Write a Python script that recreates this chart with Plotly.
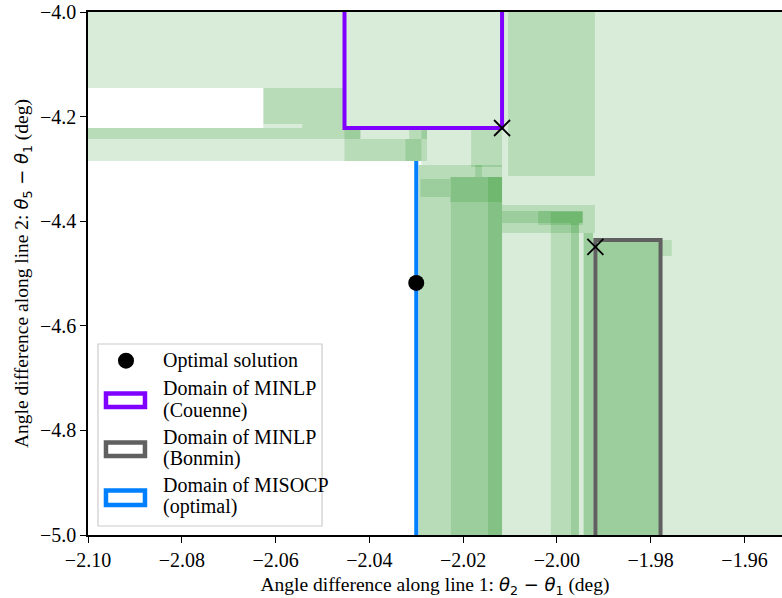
import plotly.graph_objects as go

# ---------------- data ----------------
x_ticks = [-2.10, -2.08, -2.06, -2.04, -2.02, -2.00, -1.98, -1.96]
y_ticks = [-5.0, -4.8, -4.6, -4.4, -4.2, -4.0]

# explored sub-domains (branch-and-bound boxes): x0, x1, y0, y1
box_x0 = [-2.12, -2.0117, -2.0104, -2.0453, -2.12, -2.12, -2.0626, -2.0626, -2.0543,
          -2.0453, -2.0453, -2.0323, -2.0453, -2.0453, -2.0315, -2.0289, -2.0183,
          -2.0300, -2.0294, -2.0226, -2.0147, -2.0228, -2.0291, -2.0174,
          -2.0117, -2.0117, -2.0040, -2.0013, -2.0013, -1.9970, -1.9943, -1.9943,
          -1.9919, -1.9919, -1.9779]
box_x1 = [-1.94, -1.94, -1.9919, -2.0117, -2.0453, -2.0453, -2.0453, -2.0453, -2.0453,
          -2.0277, -2.0289, -2.0289, -2.0419, -2.0419, -2.0277, -2.0117, -2.0117,
          -2.0117, -2.0117, -2.0117, -2.0117, -2.0117, -2.0228, -2.0160,
          -1.9919, -1.9945, -1.9945, -1.9945, -1.9953, -1.9953, -1.9923, -1.9923,
          -1.9779, -1.9779, -1.9755]
box_y0 = [-4.1453, -5.02, -4.3136, -4.2218, -4.2849, -4.2428, -4.2218, -4.2141, -4.2218,
          -4.2849, -4.2849, -4.2849, -4.2428, -4.2428, -4.2428, -4.2925, -4.2964,
          -5.02, -5.02, -5.02, -5.02, -4.3633, -4.3537, -4.3155,
          -4.4226, -4.4034, -4.4073, -4.4034, -5.02, -5.02, -5.02, -5.02,
          -5.02, -5.02, -4.4665]
box_y1 = [-3.98, -4.1453, -3.98, -4.1453, -4.2218, -4.2218, -4.1453, -4.1453, -4.2141,
          -4.2218, -4.2428, -4.2428, -4.2218, -4.2218, -4.2218, -4.2218, -4.2218,
          -4.2925, -4.2925, -4.3155, -4.3155, -4.3155, -4.3193, -4.2925,
          -4.3690, -4.3805, -4.3805, -4.3824, -4.4034, -4.4034, -4.4226, -4.4226,
          -4.4360, -4.4360, -4.4360]

# solver domains: x0, x1, y0, y1
couenne_box = [-2.0453, -2.0117, -4.2218, -3.90]
bonmin_box = [-1.9918, -1.9779, -5.10, -4.4360]
misocp_box = [-2.0300, -2.0300, -5.10, -4.2849]

opt_x = [-2.0300]
opt_y = [-4.518]
cross_x = [-2.0117, -1.9918]
cross_y = [-4.2218, -4.449]

legend_labels = ["Optimal solution",
                 "Domain of MINLP", "(Couenne)",
                 "Domain of MINLP", "(Bonmin)",
                 "Domain of MISOCP", "(optimal)"]

# ---------------- figure ----------------
FONT = "Liberation Serif"
PURPLE, GRAY, BLUE = "#8000ff", "#606060", "#0080ff"
fig = go.Figure()

shapes = []
for a, b, c, d in zip(box_x0, box_x1, box_y0, box_y1):
    shapes.append(dict(type="rect", xref="x", yref="y", x0=a, x1=b, y0=c, y1=d,
                       fillcolor="rgba(0,128,0,0.15)", line=dict(width=0), layer="below"))

for box, col in [(couenne_box, PURPLE), (bonmin_box, GRAY), (misocp_box, BLUE)]:
    shapes.append(dict(type="rect", xref="x", yref="y", x0=box[0], x1=box[1], y0=box[2], y1=box[3],
                       fillcolor="rgba(0,0,0,0)", line=dict(color=col, width=4), layer="below"))

# ----- legend (drawn in paper coordinates) -----
shapes.append(dict(type="rect", xref="paper", yref="paper", x0=0.0144, x1=0.3372, y0=0.0172, y1=0.3652,
                   fillcolor="white", line=dict(color="#cccccc", width=1.2), layer="above"))
shapes.append(dict(type="circle", xref="paper", yref="paper", x0=0.0432, x1=0.0663, y0=0.3180, y1=0.3486,
                   fillcolor="black", line=dict(color="black", width=0), layer="above"))
for col, y0, y1 in [(PURPLE, 0.2447, 0.2706), (GRAY, 0.1511, 0.1769), (BLUE, 0.0574, 0.0851)]:
    shapes.append(dict(type="rect", xref="paper", yref="paper", x0=0.0259, x1=0.0821, y0=y0, y1=y1,
                       fillcolor="white", line=dict(color=col, width=4.5), layer="above"))

legend_y = [0.3333, 0.2805, 0.2390, 0.1880, 0.1467, 0.0956, 0.0541]
annotations = [dict(xref="paper", yref="paper", x=0.1052, y=yy, text=t, showarrow=False,
                    xanchor="left", yanchor="middle", font=dict(family=FONT, size=20, color="black"))
               for t, yy in zip(legend_labels, legend_y)]

fig.add_trace(go.Scatter(x=opt_x, y=opt_y, mode="markers", name="Optimal solution",
                         showlegend=False, marker=dict(color="black", size=16)))
fig.add_trace(go.Scatter(x=cross_x, y=cross_y, mode="markers", showlegend=False,
                         marker=dict(symbol="x-thin", size=16, color="black",
                                     line=dict(color="black", width=1.8))))

theta_style = "font-family:'DejaVu Sans';font-size:18px"
xtitle = ("Angle difference along line 1: <span style=\"" + theta_style + "\"><i>θ</i><sub>2</sub> − "
          "<i>θ</i><sub>1</sub></span> (deg)")
ytitle = ("Angle difference along line 2: <span style=\"" + theta_style + "\"><i>θ</i><sub>5</sub> − "
          "<i>θ</i><sub>1</sub></span> (deg)")

fig.update_layout(
    width=782, height=598,
    margin=dict(l=88, r=0, t=12, b=63),
    plot_bgcolor="white", paper_bgcolor="white",
    shapes=shapes, annotations=annotations,
    showlegend=False,
    font=dict(family=FONT, size=20, color="black"),
    xaxis=dict(range=[-2.10, -1.952], tickvals=x_ticks, tickformat=".2f",
               showgrid=False, zeroline=False, showline=True, linecolor="black", linewidth=1.5,
               mirror=True, ticks="outside", ticklen=6, tickwidth=1.3, tickcolor="black",
               tickfont=dict(family=FONT, size=20),
               title=dict(text=xtitle, font=dict(family=FONT, size=19.5), standoff=8)),
    yaxis=dict(range=[-5.0, -4.0], tickvals=y_ticks, tickformat=".1f",
               showgrid=False, zeroline=False, showline=True, linecolor="black", linewidth=1.5,
               mirror=False, ticks="outside", ticklen=6, tickwidth=1.3, tickcolor="black",
               tickfont=dict(family=FONT, size=20),
               title=dict(text=ytitle, font=dict(family=FONT, size=19.5), standoff=6)),
)

fig.write_html("out.html")
